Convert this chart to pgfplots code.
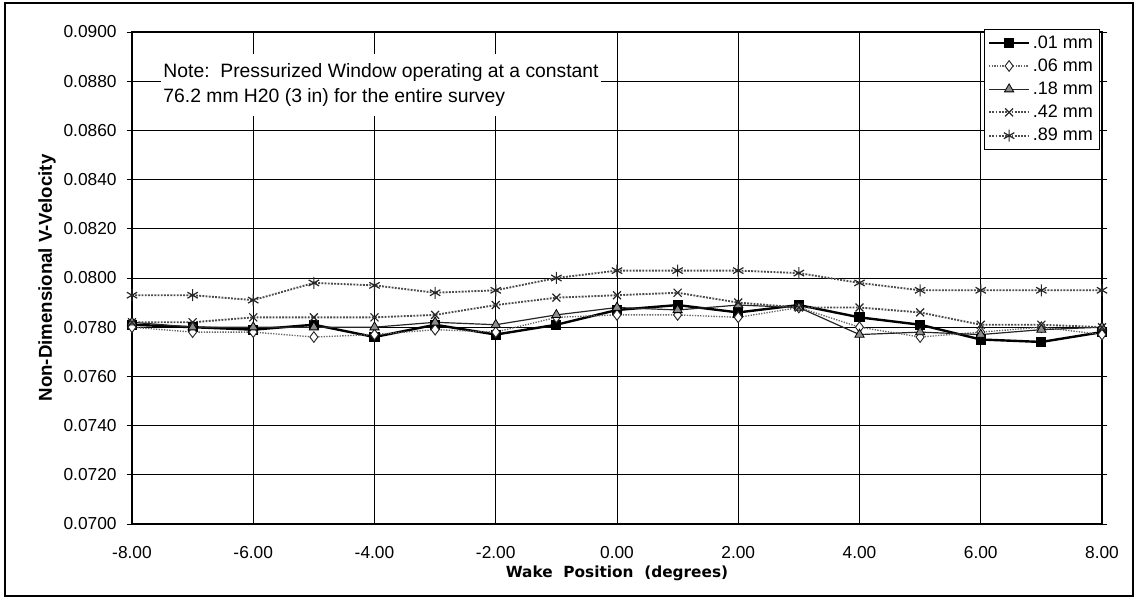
\documentclass[border=0pt]{standalone}
\usepackage{fontspec}
\setmainfont{Liberation Sans}
\newfontfamily\dejavu{DejaVu Sans}
\usepackage{pgfplots}
\usepackage{pgfplotstable}
\pgfplotsset{compat=1.18}

\pgfplotstableread{
x   s01     s06     s18     s42     s89
-8  0.0781  0.0780  0.0782  0.0782  0.0793
-7  0.0780  0.0778  0.0780  0.0782  0.0793
-6  0.0779  0.0778  0.0780  0.0784  0.0791
-5  0.0781  0.0776  0.0780  0.0784  0.0798
-4  0.0776  0.0777  0.0780  0.0784  0.0797
-3  0.0781  0.0779  0.0782  0.0785  0.0794
-2  0.0777  0.0778  0.0781  0.0789  0.0795
-1  0.0781  0.0784  0.0785  0.0792  0.0800
0   0.0787  0.0785  0.0788  0.0793  0.0803
1   0.0789  0.0785  0.0787  0.0794  0.0803
2   0.0786  0.0784  0.0789  0.0790  0.0803
3   0.0789  0.0788  0.0788  0.0788  0.0802
4   0.0784  0.0780  0.0777  0.0788  0.0798
5   0.0781  0.0776  0.0778  0.0786  0.0795
6   0.0775  0.0778  0.0777  0.0781  0.0795
7   0.0774  0.0780  0.0779  0.0781  0.0795
8   0.0778  0.0777  0.0780  0.0780  0.0795
}\datatable

\begin{document}
\begin{tikzpicture}
\useasboundingbox (-99pt,-55.5pt) rectangle (754.5pt,393pt);
\begin{axis}[
  name=ax,
  at={(0,0)}, anchor=south west,
  scale only axis,
  width=727.5pt, height=369pt,
  xmin=-8, xmax=8, ymin=0.07, ymax=0.09,
  xtick={-8,-6,-4,-2,0,2,4,6,8},
  ytick={0.070,0.072,0.074,0.076,0.078,0.080,0.082,0.084,0.086,0.088,0.090},
  scaled y ticks=false, scaled x ticks=false,
  /pgf/number format/assume math mode=true,
  x tick label style={/pgf/number format/fixed, /pgf/number format/fixed zerofill, /pgf/number format/precision=2, yshift=-9pt},
  y tick label style={/pgf/number format/fixed, /pgf/number format/fixed zerofill, /pgf/number format/precision=4, xshift=-4pt},
  tick label style={font=\fontsize{13}{15}\selectfont},
  grid=major,
  major grid style={black, line width=0.6pt},
  axis line style={black, line width=1pt},
  xtick style={draw=none},
  ytick style={black, line width=0.6pt},
  tick align=outside,
  major tick length=4pt,
  clip=false,
  xlabel={\dejavu\bfseries Wake\ \ Position\ \ (degrees)},
  ylabel={\bfseries Non-Dimensional V-Velocity},
  every axis x label/.style={at={(axis description cs:0.5,-0.1)}, anchor=center, font=\fontsize{11.5}{13}\selectfont},
  every axis y label/.style={at={(axis description cs:-0.0876,0.5)}, rotate=90, anchor=center, font=\fontsize{14}{16}\selectfont},
  legend style={at={(axis description cs:0.998,1.006)}, anchor=north east, draw=black, line width=0.6pt, fill=white,
    font=\fontsize{13.5}{15}\selectfont, inner xsep=3pt, inner ysep=2.5pt, row sep=2.5pt, cells={anchor=west}},
  legend image code/.code={\draw[mark repeat=2,mark phase=2] plot coordinates {(0pt,0pt) (15pt,0pt) (30pt,0pt)};},
]
\addplot[black, line width=1.8pt, mark=square*, mark size=2.9pt, mark options={solid, fill=black}] table[x=x, y=s01] {\datatable};
\addlegendentry{.01 mm}
\addplot[black!60, line width=1pt, densely dotted, mark=diamond*, mark size=4pt, mark options={solid, fill=white, draw=black!85, line width=0.7pt}] table[x=x, y=s06] {\datatable};
\addlegendentry{.06 mm}
\addplot[black!85, line width=0.9pt, mark=triangle*, mark size=4pt, mark options={solid, fill=black!45, draw=black, line width=0.6pt}] table[x=x, y=s18] {\datatable};
\addlegendentry{.18 mm}
\addplot[black!70, line width=1.4pt, densely dotted, mark=x, mark size=4.2pt, mark options={solid, draw=black!85, line width=0.9pt}] table[x=x, y=s42] {\datatable};
\addlegendentry{.42 mm}
\addplot[black!70, line width=1.4pt, densely dotted, mark=asterisk, mark size=4.5pt, mark options={solid, draw=black!85, line width=0.9pt}] table[x=x, y=s89] {\datatable};
\addlegendentry{.89 mm}
\node[fill=white, inner xsep=2pt, inner ysep=7pt, anchor=north west, align=left, font=\fontsize{14.5}{18.75}\selectfont]
  at (axis cs:-7.53,0.0891) {Note:\ \ Pressurized Window operating at a constant\\76.2 mm H20 (3 in) for the entire survey};
\end{axis}
\draw[black, line width=1.2pt] (-95.25pt,-54pt) rectangle (750.75pt,390.75pt);
\end{tikzpicture}
\end{document}
